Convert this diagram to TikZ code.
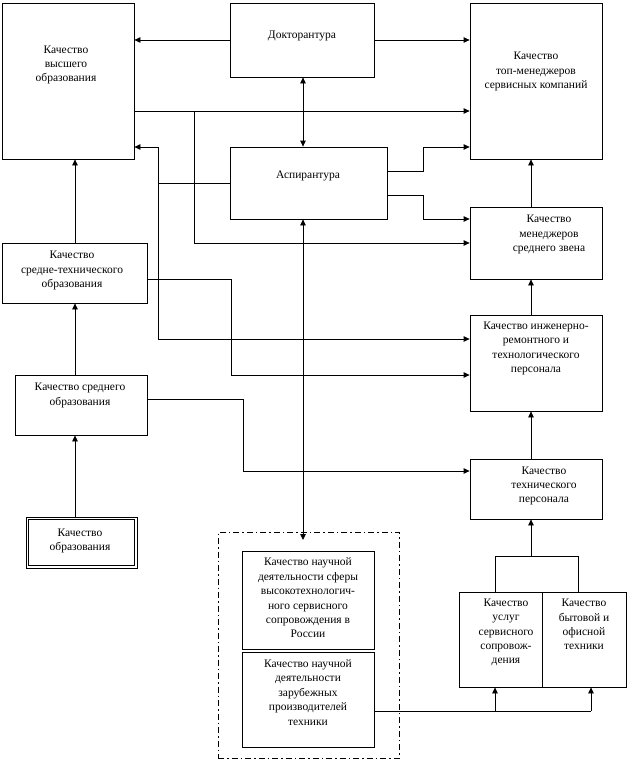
\documentclass[tikz,border=0pt]{standalone}
\usepackage{fontspec}
\setmainfont{Liberation Serif}
\usetikzlibrary{arrows.meta}
\begin{document}
\begin{tikzpicture}[x=1pt,y=-1pt,
  box/.style={draw,line width=0.8pt,rectangle,inner sep=0pt},
  txt/.style={align=center,inner sep=0pt,font=\fontsize{11.5}{14.4}\selectfont},
  ln/.style={line width=0.8pt},
  arr/.style={line width=0.8pt,-{Triangle[length=6pt,width=5.5pt]}},
  darr/.style={line width=0.8pt,{Triangle[length=6pt,width=5.5pt]}-{Triangle[length=6pt,width=5.5pt]}}]
\useasboundingbox (0,0) rectangle (630,760);
% boxes
\node[box,minimum width=132pt,minimum height=156pt] (hi) at (68,81) {};
\node[box,minimum width=144pt,minimum height=74pt] (doc) at (302,40) {};
\node[box,minimum width=132pt,minimum height=156pt] (top) at (536,81) {};
\node[box,minimum width=157pt,minimum height=72pt] (asp) at (308.5,183) {};
\node[box,minimum width=132pt,minimum height=72pt] (mid) at (536,243) {};
\node[box,minimum width=145pt,minimum height=60pt] (st) at (74.5,273) {};
\node[box,minimum width=132pt,minimum height=96pt] (eng) at (536,363) {};
\node[box,minimum width=132pt,minimum height=60pt] (sr) at (81,405) {};
\node[box,minimum width=132pt,minimum height=60pt] (tech) at (536,489) {};
\node[box,minimum width=111pt,minimum height=51pt] (obr) at (81.5,542.5) {};
\draw[ln] ([xshift=3pt,yshift=-3pt]obr.north west) rectangle ([xshift=-3pt,yshift=3pt]obr.south east);
\node[draw,line width=0.8pt,dash pattern=on 6pt off 3pt on 1.5pt off 3pt,inner sep=0pt,minimum width=181pt,minimum height=226pt] (grp) at (308.5,645) {};
\node[box,minimum width=132pt,minimum height=98pt] (sci1) at (308,600) {};
\node[box,minimum width=132pt,minimum height=95pt] (sci2) at (308,699.5) {};
\node[box,minimum width=83pt,minimum height=95pt] (svc1) at (500.5,639.5) {};
\node[box,minimum width=84pt,minimum height=95pt] (svc2) at (584,639.5) {};
% texts
\node[txt] (thi) at (66,65) {Качество\\высшего\\образования};
\node[txt] (tdoc) at (302,36) {Докторантура};
\node[txt] (ttop) at (536,71.5) {Качество\\топ-менеджеров\\сервисных компаний};
\node[txt] (tasp) at (308,176) {Аспирантура};
\node[txt] (tmid) at (549,234.5) {Качество\\менеджеров\\среднего звена};
\node[txt] (tst) at (72,270.5) {Качество\\средне-технического\\образования};
\node[txt] (tsr) at (80,395.5) {Качество среднего\\образования};
\node[txt] (tobr) at (80,541) {Качество\\образования};
\node[txt] (teng) at (536,348.5) {Качество инженерно-\\ремонтного и\\технологического\\персонала};
\node[txt] (ttech) at (544,486) {Качество\\технического\\персонала};
\node[txt] (tsci1) at (308,598) {Качество научной\\деятельности сферы\\высокотехнологич-\\ного сервисного\\сопровождения в\\России};
\node[txt] (tsci2) at (308,692.5) {Качество научной\\деятельности\\зарубежных\\производителей\\техники};
\node[txt] (tsvc1) at (506,632.5) {Качество\\услуг\\сервисного\\сопровож-\\дения};
\node[txt] (tsvc2) at (584,624.5) {Качество\\бытовой и\\офисной\\техники};
% junction coordinates
\coordinate (j1) at (194,111);
\coordinate (j2) at (158,183);
\coordinate (j3) at (531,556);
\coordinate (j4) at (495,711);
\coordinate (j5) at (303,540);
% connectors
\draw[arr] (doc.west) -- (hi.east |- doc.west);
\draw[arr] (doc.east) -- (top.west |- doc.east);
\draw[darr] (doc.south -| j5) -- (asp.north -| j5);
\draw[darr] (asp.south -| j5) -- (j5);
\draw[arr] (hi.east |- j1) -- (top.west |- j1);
\draw[arr] (j1) -- (194,243) -- (mid.west);
\draw[ln] (asp.west) -- (j2);
\draw[arr] (j2) -- (158,147) -- (hi.east |- 0,147);
\draw[arr] (j2) -- (158,339) -- (eng.west |- 0,339);
\draw[arr] (asp.east |- 0,171) -- (423,171) -- (423,147) -- (top.west |- 0,147);
\draw[arr] (asp.east |- 0,195) -- (423,195) -- (423,219) -- (mid.west |- 0,219);
\draw[arr] (mid.north -| j3) -- (top.south -| j3);
\draw[arr] (eng.north -| j3) -- (mid.south -| j3);
\draw[arr] (tech.north -| j3) -- (eng.south -| j3);
\draw[arr] (st.north -| 75,0) -- (hi.south -| 75,0);
\draw[arr] (sr.north -| 75,0) -- (st.south -| 75,0);
\draw[arr] (obr.north -| 75,0) -- (sr.south -| 75,0);
\draw[arr] (st.east |- 0,279) -- (231,279) -- (231,375) -- (eng.west |- 0,375);
\draw[arr] (sr.east |- 0,399) -- (243,399) -- (243,471) -- (tech.west |- 0,471);
\draw[ln] (svc1.north -| j4) -- (j4 |- j3) -- (578,556) -- (svc2.north -| 578,0);
\draw[arr] (j3) -- (tech.south -| j3);
\draw[ln] (sci2.east |- j4) -- (591,711);
\draw[arr] (j4) -- (svc1.south -| j4);
\draw[arr] (591,711) -- (svc2.south -| 591,0);
\end{tikzpicture}
\end{document}
